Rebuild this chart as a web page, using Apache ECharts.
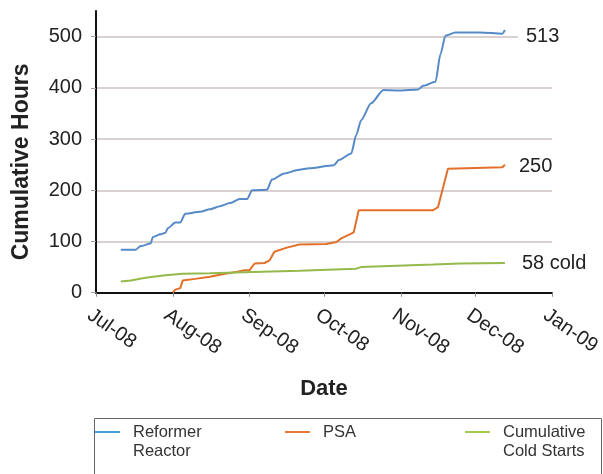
<!DOCTYPE html>
<html>
<head>
<meta charset="utf-8">
<script src="https://cdn.jsdelivr.net/npm/echarts@6/dist/echarts.min.js"></script>
<style>html,body{margin:0;padding:0;background:#fff;}#chart{width:603px;height:474px;}</style>
</head>
<body>
<div id="chart"></div>
<script>
// ---- data ----
const seriesNames = ['Reformer\nReactor', 'PSA', 'Cumulative\nCold Starts'];
const endLabelTexts = ['513', '250', '58 cold'];
const tickDates = ['2008-07-01','2008-08-01','2008-09-01','2008-10-01','2008-11-01','2008-12-01','2009-01-01'];
const tickLabels = ['Jul-08','Aug-08','Sep-08','Oct-08','Nov-08','Dec-08','Jan-09'];
const yTicks = [0, 100, 200, 300, 400, 500];

const reformer = [
  ['2008-07-11',84],['2008-07-17',84],['2008-07-19',91],['2008-07-23',96],['2008-07-24',109],
  ['2008-07-27',114],['2008-07-29',117],['2008-07-30',126],['2008-08-02',137],['2008-08-04',137],
  ['2008-08-06',154],['2008-08-12',158],['2008-08-16',163],['2008-08-20',169],['2008-08-24',175],
  ['2008-08-28',183],['2008-08-31',183],['2008-09-02',200],['2008-09-08',201],['2008-09-10',221],
  ['2008-09-15',233],['2008-09-21',240],['2008-09-25',243],['2008-10-05',249],['2008-10-07',259],
  ['2008-10-12',272],['2008-10-14',308],['2008-10-16',337],['2008-10-20',370],['2008-10-25',396],
  ['2008-10-31',395],['2008-11-08',397],['2008-11-10',404],['2008-11-15',412],['2008-11-17',466],
  ['2008-11-19',502],['2008-11-23',508],['2008-12-03',508],['2008-12-12',506],['2008-12-13',513]
];
const psa = [
  ['2008-08-01',0],['2008-08-02',6],['2008-08-04',9],['2008-08-05',24],['2008-08-10',27],
  ['2008-08-16',31],['2008-08-21',36],['2008-08-27',41],['2008-08-30',44],['2008-09-01',44],
  ['2008-09-03',57],['2008-09-07',58],['2008-09-09',63],['2008-09-11',80],['2008-09-16',88],
  ['2008-09-21',94],['2008-10-02',95],['2008-10-06',99],['2008-10-08',106],['2008-10-13',118],
  ['2008-10-15',161],['2008-11-14',161],['2008-11-16',167],['2008-11-20',242],['2008-12-12',245],
  ['2008-12-13',250]
];
const coldStarts = [
  ['2008-07-11',22],['2008-07-15',24],['2008-07-21',29],['2008-07-29',34],['2008-08-05',37],
  ['2008-08-16',38],['2008-08-30',40],['2008-09-21',43],['2008-10-14',47],['2008-10-16',50],
  ['2008-11-14',55],['2008-11-25',57],['2008-12-13',58]
];

// ---- helpers ----
function toTime(s) { const p = s.split('-').map(Number); return new Date(p[0], p[1] - 1, p[2]).getTime(); }
const conv = arr => arr.map(d => [toTime(d[0]), d[1]]);
const tickTimes = tickDates.map(toTime);

const FONT = 'Liberation Sans, Arial, sans-serif';
const colors = ['#5689c7', '#e2702a', '#94ba4c'];
const legendColors = ['#4a9fd8', '#e8783a', '#a8c84e'];
const lineData = [reformer, psa, coldStarts];

const chart = echarts.init(document.getElementById('chart'), null, { renderer: 'canvas' });

const endLabelCfg = [
  { distance: 13, offset: [0, 6], padding: [1, 2, 1, 8], backgroundColor: '#fff' },
  { distance: 14, offset: [0, 2], padding: [0, 0, 0, 0], backgroundColor: 'transparent' },
  { distance: 17, offset: [0, 0], padding: [0, 0, 0, 0], backgroundColor: 'transparent' }
];

const legendLeft = [95, 285, 465];
const legendTop = [403.5, 422.5, 403.5];

const option = {
  animation: false,
  textStyle: { fontFamily: FONT },
  grid: { left: 96, right: 51, top: 11.1, bottom: 181.3, containLabel: false, outerBoundsMode: 'none' },
  graphic: [{
    type: 'rect', left: 92, top: 416, z: -1,
    shape: { width: 507, height: 80 },
    style: { fill: 'none', stroke: '#666', lineWidth: 1 }
  }],
  legend: seriesNames.map((n, i) => ({
    data: [{ name: n, icon: 'rect', itemStyle: { color: legendColors[i] } }],
    left: legendLeft[i],
    top: legendTop[i],
    padding: 0,
    itemWidth: 25,
    itemHeight: 2,
    selectedMode: false,
    formatter: name => (name.indexOf('\n') >= 0 ? '\n' + name : name),
    textStyle: {
      fontFamily: FONT, fontSize: 16.5, lineHeight: 19, color: '#333',
      padding: [0, 0, 0, 8]
    }
  })),
  xAxis: {
    type: 'value',
    min: tickTimes[0],
    max: tickTimes[tickTimes.length - 1],
    name: 'Date',
    nameLocation: 'middle',
    nameGap: 85,
    nameTextStyle: { fontFamily: FONT, fontSize: 22, fontWeight: 'bold', color: '#222' },
    axisLine: { lineStyle: { color: '#111', width: 2 } },
    axisTick: { show: true, length: 4, customValues: tickTimes, lineStyle: { color: '#888' } },
    axisLabel: {
      customValues: tickTimes,
      rotate: -35,
      margin: 25,
      padding: [0, 0, 0, -8],
      fontFamily: FONT, fontSize: 20, color: '#222',
      formatter: v => { const i = tickTimes.indexOf(v); return i >= 0 ? tickLabels[i] : ''; }
    },
    splitLine: { show: false }
  },
  yAxis: {
    type: 'value',
    min: 0, max: 550, interval: 100,
    name: 'Cumulative Hours',
    nameLocation: 'middle',
    nameGap: 63,
    nameTextStyle: { fontFamily: FONT, fontSize: 23, fontWeight: 'bold', color: '#222', padding: [0, 20, 0, 0] },
    axisLine: { show: true, lineStyle: { color: '#111', width: 2 } },
    axisTick: { show: true, length: 5, customValues: yTicks, lineStyle: { color: '#a59a96' } },
    axisLabel: { customValues: yTicks, margin: 14, fontFamily: FONT, fontSize: 20, color: '#222' },
    splitLine: { show: true, showMinLine: false, lineStyle: { color: '#cbc2bf', width: 1.5 } }
  },
  series: lineData.map((d, i) => ({
    name: seriesNames[i],
    type: 'line',
    data: conv(d),
    symbol: 'none',
    smooth: i === 0 ? 0.25 : false,
    smoothMonotone: 'x',
    lineStyle: { color: colors[i], width: 2 },
    itemStyle: { color: colors[i] },
    endLabel: {
      show: true,
      formatter: () => endLabelTexts[i],
      fontFamily: FONT, fontSize: 20, color: '#222',
      distance: endLabelCfg[i].distance,
      offset: endLabelCfg[i].offset,
      padding: endLabelCfg[i].padding,
      backgroundColor: endLabelCfg[i].backgroundColor
    }
  }))
};
chart.setOption(option);
</script>
</body>
</html>
